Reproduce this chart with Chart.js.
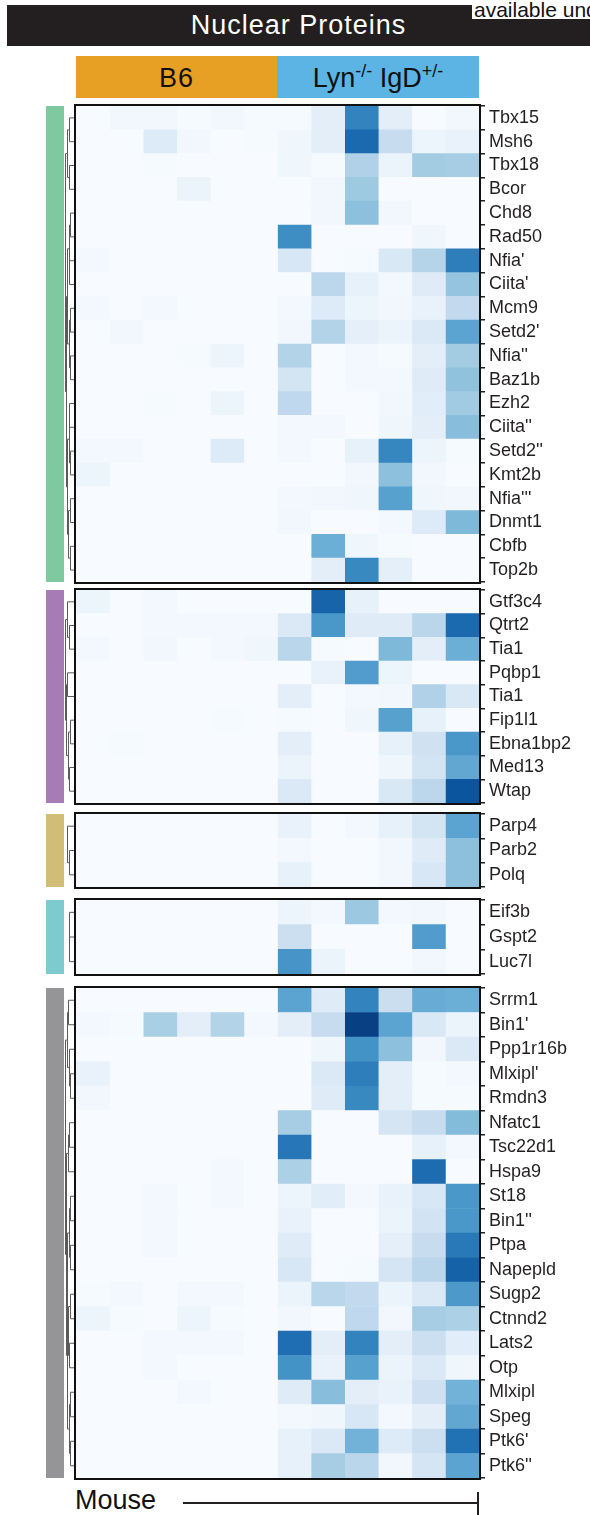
<!DOCTYPE html>
<html>
<head>
<meta charset="utf-8">
<title>Nuclear Proteins</title>
<script src="https://cdn.jsdelivr.net/npm/chart.js@4.4.1/dist/chart.umd.min.js"></script>
<style>
  html, body { margin: 0; padding: 0; background: #fff; }
  body { width: 590px; height: 1515px; position: relative; overflow: hidden;
         font-family: "Liberation Sans", Arial, sans-serif; color: #231f20; }
  #title { position: absolute; left: 7px; top: 5px; width: 583px; height: 41px;
           background: #231f20; color: #fff; font-size: 27px; letter-spacing: 1px;
           line-height: 41px; text-align: center; }
  #license { position: absolute; left: 472px; top: 0; width: 118px; height: 19px;
             background: #fff; color: #111; font-size: 21px; line-height: 20px;
             padding-left: 2px; white-space: nowrap; overflow: hidden; }
  .cond { position: absolute; top: 56px; height: 42px; line-height: 44px;
          text-align: center; font-size: 27px; color: #111; white-space: nowrap; }
  .cond sup { font-size: 18px; position: relative; top: -10px; vertical-align: baseline; }
  #b6 { left: 76px; width: 201px; background: #e8a024; letter-spacing: 1px; }
  #lyn { left: 277px; width: 202px; background: #5cb4e5; }
  canvas { position: absolute; left: 0; }
  #mouse { position: absolute; left: 75px; top: 1484px; font-size: 27px; line-height: 32px; color: #111; }
  #scaleLine { position: absolute; left: 183px; top: 1502px; width: 296px; height: 2px; background: #231f20; }
  #scaleTick { position: absolute; left: 477px; top: 1492px; width: 2px; height: 23px; background: #231f20; }
</style>
</head>
<body>
<div id="title">Nuclear Proteins</div>
<div id="license">available under</div>
<div class="cond" id="b6">B6</div>
<div class="cond" id="lyn">Lyn<sup>-/-</sup> IgD<sup>+/-</sup></div>
<div id="mouse">Mouse</div>
<div id="scaleLine"></div>
<div id="scaleTick"></div>

<script>
// ---- Row labels and normalised abundance per sample (6 B6 then 6 Lyn-/- IgD+/-) ----
const g1Rows = ['Tbx15', 'Msh6', 'Tbx18', 'Bcor', 'Chd8', 'Rad50', "Nfia'", "Ciita'", 'Mcm9', "Setd2'",
                "Nfia''", 'Baz1b', 'Ezh2', "Ciita''", "Setd2''", 'Kmt2b', "Nfia'''", 'Dnmt1', 'Cbfb', 'Top2b'];
const g1Values = [
  [0, 0.03, 0.03, 0.01, 0.03, 0.01, 0.01, 0.10, 0.68, 0.10, 0, 0.03],
  [0, 0, 0.13, 0.03, 0, 0.01, 0.04, 0.10, 0.78, 0.24, 0.05, 0.07],
  [0, 0, 0.01, 0, 0, 0, 0.04, 0.01, 0.32, 0.06, 0.36, 0.35],
  [0, 0, 0, 0.06, 0, 0, 0, 0.03, 0.375, 0, 0, 0],
  [0, 0, 0, 0, 0, 0, 0, 0.03, 0.42, 0.03, 0, 0],
  [0, 0, 0, 0, 0, 0, 0.64, 0, 0, 0, 0.04, 0],
  [0.02, 0, 0, 0, 0, 0, 0.16, 0, 0.01, 0.15, 0.30, 0.70],
  [0, 0, 0, 0, 0, 0, 0, 0.28, 0.08, 0.02, 0.12, 0.40],
  [0.02, 0, 0.02, 0, 0, 0, 0.02, 0.13, 0.05, 0.03, 0.07, 0.26],
  [0, 0.03, 0, 0, 0, 0, 0.03, 0.31, 0.09, 0.06, 0.14, 0.55],
  [0, 0, 0, 0.01, 0.05, 0, 0.31, 0, 0.02, 0.01, 0.10, 0.36],
  [0, 0, 0, 0, 0, 0, 0.18, 0, 0.02, 0.02, 0.12, 0.41],
  [0, 0, 0.01, 0, 0.05, 0, 0.27, 0, 0, 0.03, 0.11, 0.37],
  [0, 0, 0, 0, 0, 0, 0.02, 0.02, 0, 0.04, 0.10, 0.43],
  [0.02, 0.02, 0, 0, 0.13, 0, 0.02, 0, 0.08, 0.67, 0.05, 0.01],
  [0.05, 0, 0, 0, 0, 0, 0, 0, 0.03, 0.42, 0.03, 0],
  [0, 0, 0, 0, 0, 0, 0.02, 0.03, 0.04, 0.56, 0.04, 0.03],
  [0, 0, 0, 0, 0, 0, 0.03, 0, 0, 0.02, 0.13, 0.45],
  [0, 0, 0, 0, 0, 0, 0, 0.50, 0.04, 0.01, 0, 0],
  [0, 0, 0, 0, 0, 0, 0, 0.10, 0.66, 0.09, 0, 0]
];

const g2Rows = ['Gtf3c4', 'Qtrt2', 'Tia1', 'Pqbp1', 'Tia1', 'Fip1l1', 'Ebna1bp2', 'Med13', 'Wtap'];
const g2Values = [
  [0.05, 0, 0.02, 0, 0, 0, 0, 0.80, 0.08, 0, 0, 0],
  [0, 0, 0.02, 0.02, 0.02, 0.02, 0.14, 0.60, 0.12, 0.12, 0.29, 0.78],
  [0.02, 0, 0.03, 0, 0.02, 0.04, 0.29, 0.01, 0, 0.45, 0.10, 0.50],
  [0, 0, 0, 0, 0, 0, 0, 0.07, 0.58, 0.05, 0, 0],
  [0, 0, 0, 0, 0, 0, 0.10, 0, 0.02, 0.03, 0.32, 0.15],
  [0, 0, 0, 0, 0.01, 0, 0.01, 0, 0.04, 0.56, 0.08, 0],
  [0, 0.01, 0, 0, 0, 0, 0.10, 0, 0, 0.08, 0.20, 0.60],
  [0, 0, 0, 0, 0, 0, 0.06, 0, 0, 0.04, 0.18, 0.53],
  [0, 0, 0, 0, 0, 0, 0.14, 0, 0, 0.15, 0.28, 0.86]
];

const g3Rows = ['Parp4', 'Parb2', 'Polq'];
const g3Values = [
  [0, 0, 0, 0, 0, 0, 0.07, 0, 0.02, 0.08, 0.18, 0.55],
  [0, 0, 0, 0, 0, 0, 0.02, 0, 0, 0.03, 0.12, 0.42],
  [0, 0, 0, 0, 0, 0, 0.08, 0, 0, 0.03, 0.16, 0.42]
];

const g4Rows = ['Eif3b', 'Gspt2', 'Luc7l'];
const g4Values = [
  [0, 0, 0, 0, 0, 0, 0.05, 0.02, 0.38, 0.02, 0.03, 0],
  [0, 0, 0, 0, 0, 0, 0.22, 0, 0, 0, 0.58, 0],
  [0, 0, 0, 0, 0, 0, 0.61, 0.06, 0, 0, 0.03, 0]
];

const g5Rows = ['Srrm1', "Bin1'", 'Ppp1r16b', "Mlxipl'", 'Rmdn3', 'Nfatc1', 'Tsc22d1', 'Hspa9', 'St18', "Bin1''",
                'Ptpa', 'Napepld', 'Sugp2', 'Ctnnd2', 'Lats2', 'Otp', 'Mlxipl', 'Speg', "Ptk6'", "Ptk6''"];
const g5Values = [
  [0, 0, 0, 0, 0, 0, 0.55, 0.12, 0.68, 0.23, 0.51, 0.50],
  [0.02, 0.01, 0.34, 0.10, 0.31, 0.02, 0.10, 0.24, 0.94, 0.55, 0.15, 0.06],
  [0, 0, 0, 0, 0, 0, 0, 0.04, 0.62, 0.42, 0.03, 0.14],
  [0.07, 0, 0, 0, 0, 0, 0, 0.14, 0.70, 0.10, 0.01, 0.02],
  [0.03, 0, 0, 0, 0, 0, 0, 0.12, 0.66, 0.10, 0.01, 0.01],
  [0, 0, 0, 0, 0, 0, 0.35, 0, 0, 0.17, 0.24, 0.44],
  [0, 0, 0, 0, 0, 0, 0.73, 0, 0, 0, 0.08, 0.02],
  [0, 0, 0, 0, 0.02, 0, 0.33, 0, 0, 0, 0.77, 0],
  [0, 0, 0.02, 0, 0.02, 0, 0.05, 0.11, 0.02, 0.07, 0.16, 0.60],
  [0, 0, 0.02, 0, 0, 0, 0.07, 0, 0, 0.06, 0.19, 0.60],
  [0, 0, 0.02, 0, 0, 0, 0.12, 0, 0, 0.09, 0.24, 0.72],
  [0, 0, 0, 0, 0, 0, 0.16, 0, 0.01, 0.17, 0.29, 0.81],
  [0.01, 0.02, 0, 0.02, 0.02, 0, 0.06, 0.29, 0.26, 0.06, 0.14, 0.59],
  [0.05, 0.01, 0, 0.05, 0.01, 0, 0.03, 0, 0.27, 0.03, 0.35, 0.33],
  [0, 0, 0.02, 0.02, 0.02, 0, 0.76, 0.10, 0.68, 0.10, 0.22, 0.11],
  [0, 0, 0.02, 0, 0, 0, 0.62, 0.07, 0.56, 0.06, 0.14, 0.04],
  [0, 0, 0, 0.02, 0, 0, 0.12, 0.43, 0.10, 0.07, 0.21, 0.48],
  [0, 0, 0, 0, 0, 0, 0.02, 0.04, 0.16, 0.02, 0.10, 0.53],
  [0, 0, 0, 0, 0, 0, 0.08, 0.14, 0.48, 0.13, 0.22, 0.75],
  [0, 0, 0, 0, 0, 0, 0.08, 0.35, 0.29, 0.03, 0.17, 0.55]
];

// ---- Row clustering trees: [mergeHeight, left, right], leaves are row indices ----
const g1Tree = [0.95,
  [0.7, [0.45, 0, 1], [0.5, 2, 3]],
  [0.85,
    [0.75, [0.55, [0.4, 4, 5], [0.45, 6, 7]], [0.5, [0.35, 8, 9], [0.4, 10, 11]]],
    [0.7, [0.55, [0.45, 12, 13], [0.4, 14, 15]], [0.6, [0.4, 16, 17], [0.35, 18, 19]]]]];
const g2Tree = [0.95,
  [0.8, 0, [0.45, 1, 2]],
  [0.85, [0.7, 3, 4], [0.6, [0.35, 5, 6], [0.5, 7, 8]]]];
const g3Tree = [0.7, 0, [0.45, 1, 2]];
const g4Tree = [0.55, 0, [0.45, 1, 2]];
const g5Tree = [0.95,
  [0.75, [0.6, 0, 1], [0.5, 2, [0.4, 3, 4]]],
  [0.85,
    [0.6, [0.45, 5, 6], 7],
    [0.8,
      [0.7, [0.55, [0.35, 8, 9], [0.4, 10, 11]], [0.6, [0.4, 12, 13], [0.45, 14, 15]]],
      [0.55, [0.4, 16, 17], [0.35, 18, 19]]]]];

// ---- Sequential blue colour ramp ----
const blueStops = ['#f7fbff', '#deebf7', '#c6dbef', '#9ecae1', '#6baed6', '#4292c6', '#2171b5', '#08519c', '#08306b'];
function hexToRgb(h) { return [1, 3, 5].map(i => parseInt(h.substr(i, 2), 16)); }
function blues(t) {
  t = Math.max(0, Math.min(1, t));
  const n = blueStops.length - 1;
  const i = Math.min(n - 1, Math.floor(t * n));
  const f = t * n - i;
  const a = hexToRgb(blueStops[i]), b = hexToRgb(blueStops[i + 1]);
  const c = a.map((v, k) => Math.round(v + (b[k] - v) * f));
  return `rgb(${c[0]},${c[1]},${c[2]})`;
}

Chart.defaults.font.family = "'Liberation Sans', Arial, sans-serif";

const PAD = 2;
const AXIS_WIDTH = 111;
const HEAT_LEFT = 76;

// Box outline, side colour strip and row dendrogram for one block
const blockDecor = {
  id: 'blockDecor',
  afterDatasetsDraw(chart, args, opts) {
    const { ctx, chartArea: a } = chart;
    const yScale = chart.scales.y;
    ctx.save();
    // side colour strip
    ctx.fillStyle = opts.stripColor;
    ctx.fillRect(46, a.top, 18, a.bottom - a.top);
    // dendrogram
    ctx.strokeStyle = '#5a5a5a';
    ctx.lineWidth = 1;
    ctx.beginPath();
    const edge = a.left - 2;
    const walk = (node) => {
      if (typeof node === 'number') {
        return { x: edge, y: yScale.getPixelForTick(node) };
      }
      const [h, l, r] = node;
      const cl = walk(l), cr = walk(r);
      const x = Math.round(edge - 1 - h * 8) + 0.5;
      ctx.moveTo(cl.x, cl.y); ctx.lineTo(x, cl.y); ctx.lineTo(x, cr.y); ctx.lineTo(cr.x, cr.y);
      return { x, y: (cl.y + cr.y) / 2 };
    };
    walk(opts.tree);
    ctx.stroke();
    // outline
    ctx.strokeStyle = '#111';
    ctx.lineWidth = 2;
    ctx.strokeRect(a.left - 1, a.top - 1, a.right - a.left + 2, a.bottom - a.top + 2);
    ctx.restore();
  }
};

function makeBlock(rows, values, tree, stripColor, top, bottom) {
  const canvas = document.createElement('canvas');
  canvas.width = 590;
  canvas.height = bottom - top + 2 * PAD;
  canvas.style.top = (top - PAD) + 'px';
  document.body.appendChild(canvas);

  const nCols = values[0].length;
  const datasets = [];
  for (let j = 0; j < nCols; j++) {
    datasets.push({
      data: rows.map(() => [j, j + 1]),
      backgroundColor: values.map(r => blues(r[j])),
      borderWidth: 0,
      grouped: false,
      barPercentage: 1,
      categoryPercentage: 1
    });
  }

  new Chart(canvas, {
    type: 'bar',
    data: { labels: rows, datasets },
    options: {
      indexAxis: 'y',
      responsive: false,
      animation: false,
      devicePixelRatio: 1,
      layout: { padding: { left: HEAT_LEFT, top: PAD, bottom: PAD, right: 0 } },
      plugins: {
        legend: { display: false },
        tooltip: { enabled: false },
        blockDecor: { tree, stripColor }
      },
      scales: {
        x: { type: 'linear', min: 0, max: nCols, display: false },
        y: {
          type: 'category',
          position: 'right',
          offset: true,
          border: { display: false },
          grid: { drawOnChartArea: false, drawTicks: true, tickLength: 6, color: '#231f20', lineWidth: 1.5 },
          ticks: { color: '#231f20', font: { size: 18 }, padding: 4, autoSkip: false },
          afterFit(scale) {
            scale.width = AXIS_WIDTH;
            scale.paddingTop = 0;
            scale.paddingBottom = 0;
          }
        }
      }
    },
    plugins: [blockDecor]
  });
}

makeBlock(g1Rows, g1Values, g1Tree, '#7fc9a0', 106, 582);
makeBlock(g2Rows, g2Values, g2Tree, '#a77bb5', 590, 803);
makeBlock(g3Rows, g3Values, g3Tree, '#d2bd76', 814, 887);
makeBlock(g4Rows, g4Values, g4Tree, '#7ecbcf', 900, 974);
makeBlock(g5Rows, g5Values, g5Tree, '#959598', 988, 1478);
</script>
</body>
</html>
